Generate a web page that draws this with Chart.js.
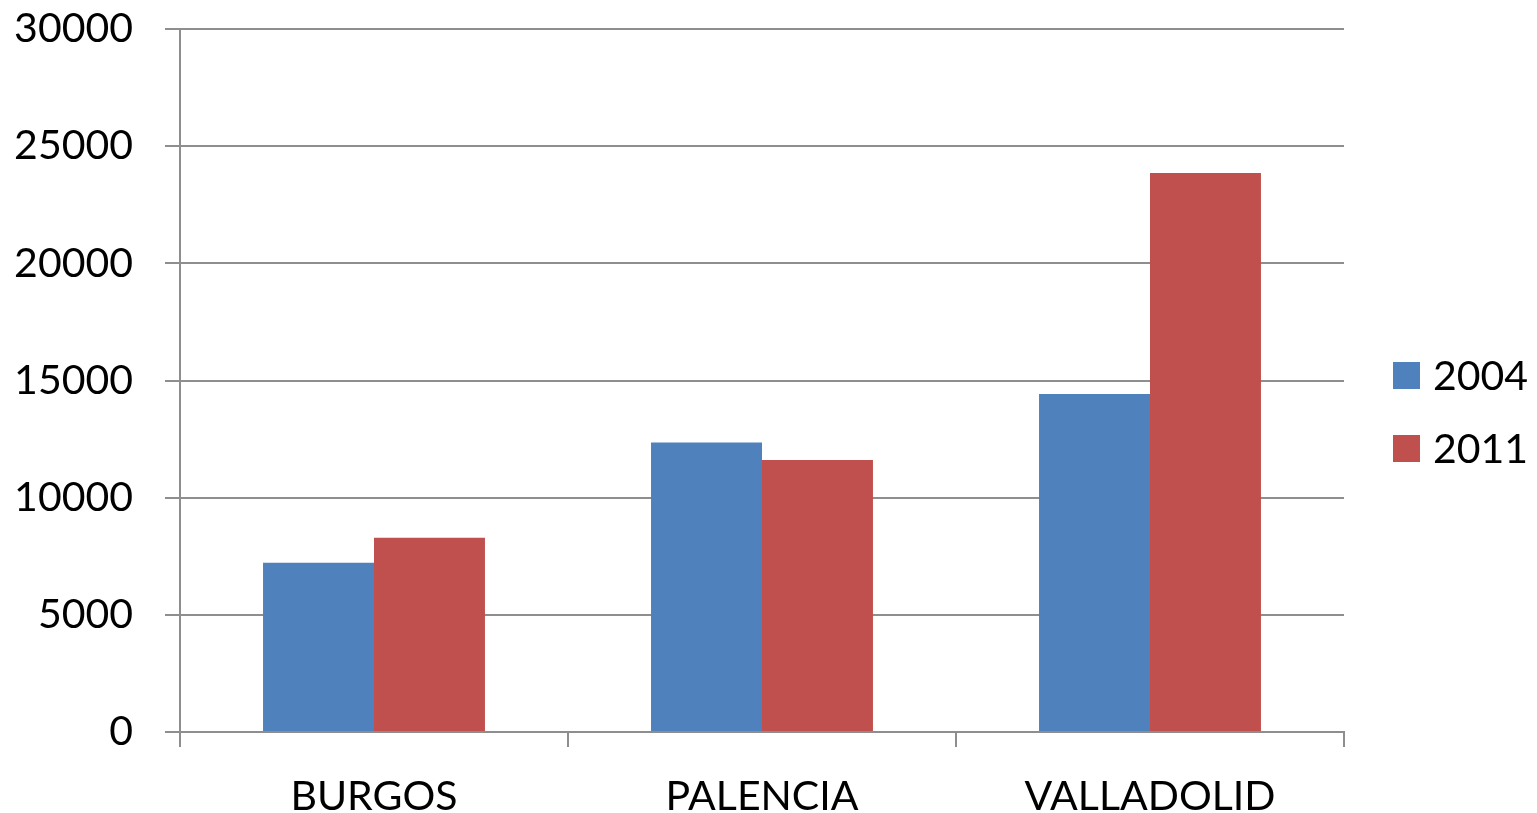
<!DOCTYPE html>
<html>
<head>
<meta charset="utf-8">
<script src="https://cdn.jsdelivr.net/npm/chart.js@4"></script>
<style>
  html, body { margin: 0; padding: 0; background: #fff; }
  #wrap { width: 1537px; height: 813px; }
</style>
</head>
<body>
<div id="wrap"><canvas id="c" width="1537" height="813"></canvas></div>
<script>
const categories = ['BURGOS', 'PALENCIA', 'VALLADOLID'];
const series2004 = [7220, 12350, 14420];
const series2011 = [8290, 11610, 23860];
const seriesLabels = ['2004', '2011'];
const yTicks = [0, 5000, 10000, 15000, 20000, 25000, 30000];

const FONT = 'Lato';
const gridColor = '#8e8e8e';

// legend drawn beside the plot, from the datasets themselves
const sideLegend = {
  id: 'sideLegend',
  afterDraw(chart) {
    const { ctx, chartArea } = chart;
    const x = chartArea.right + 49;
    ctx.save();
    ctx.font = `41px ${FONT}`;
    ctx.textBaseline = 'middle';
    ctx.textAlign = 'left';
    chart.data.datasets.forEach((ds, i) => {
      const cy = chart.height / 2 - 31 + i * 73;
      ctx.fillStyle = ds.backgroundColor;
      ctx.fillRect(x, cy - 13.5, 27, 27);
      ctx.fillStyle = '#000';
      ctx.fillText(ds.label, x + 40, cy + 1);
    });
    ctx.restore();
  }
};

new Chart(document.getElementById('c').getContext('2d'), {
  type: 'bar',
  data: {
    labels: categories,
    datasets: [
      { label: seriesLabels[0], data: series2004, backgroundColor: '#4F81BD' },
      { label: seriesLabels[1], data: series2011, backgroundColor: '#C0504D' },
    ]
  },
  options: {
    responsive: false,
    animation: false,
    layout: { padding: { top: 29, right: 193, bottom: 0, left: 0 } },
    datasets: { bar: { categoryPercentage: 0.572, barPercentage: 1 } },
    plugins: { legend: { display: false }, tooltip: { enabled: false } },
    scales: {
      x: {
        grid: { offset: true, drawOnChartArea: false, drawTicks: true, tickLength: 15, color: gridColor, lineWidth: 2 },
        border: { color: gridColor, width: 2 },
        ticks: { color: '#000', padding: 25, font: { family: FONT, size: 41 }, maxRotation: 0 },
        afterFit: s => { s.height = 81; s.paddingLeft = 0; s.paddingRight = 0; }
      },
      y: {
        min: 0, max: 30000,
        afterBuildTicks: s => { s.ticks = yTicks.map(v => ({ value: v })); },
        grid: { color: gridColor, lineWidth: 2, tickLength: 15 },
        border: { color: gridColor, width: 2 },
        ticks: { color: '#000', padding: 32, font: { family: FONT, size: 41 }, callback: v => String(v) },
        afterFit: s => { s.width = 180; s.paddingTop = 0; s.paddingBottom = 0; }
      }
    }
  },
  plugins: [sideLegend]
});
</script>
</body>
</html>
